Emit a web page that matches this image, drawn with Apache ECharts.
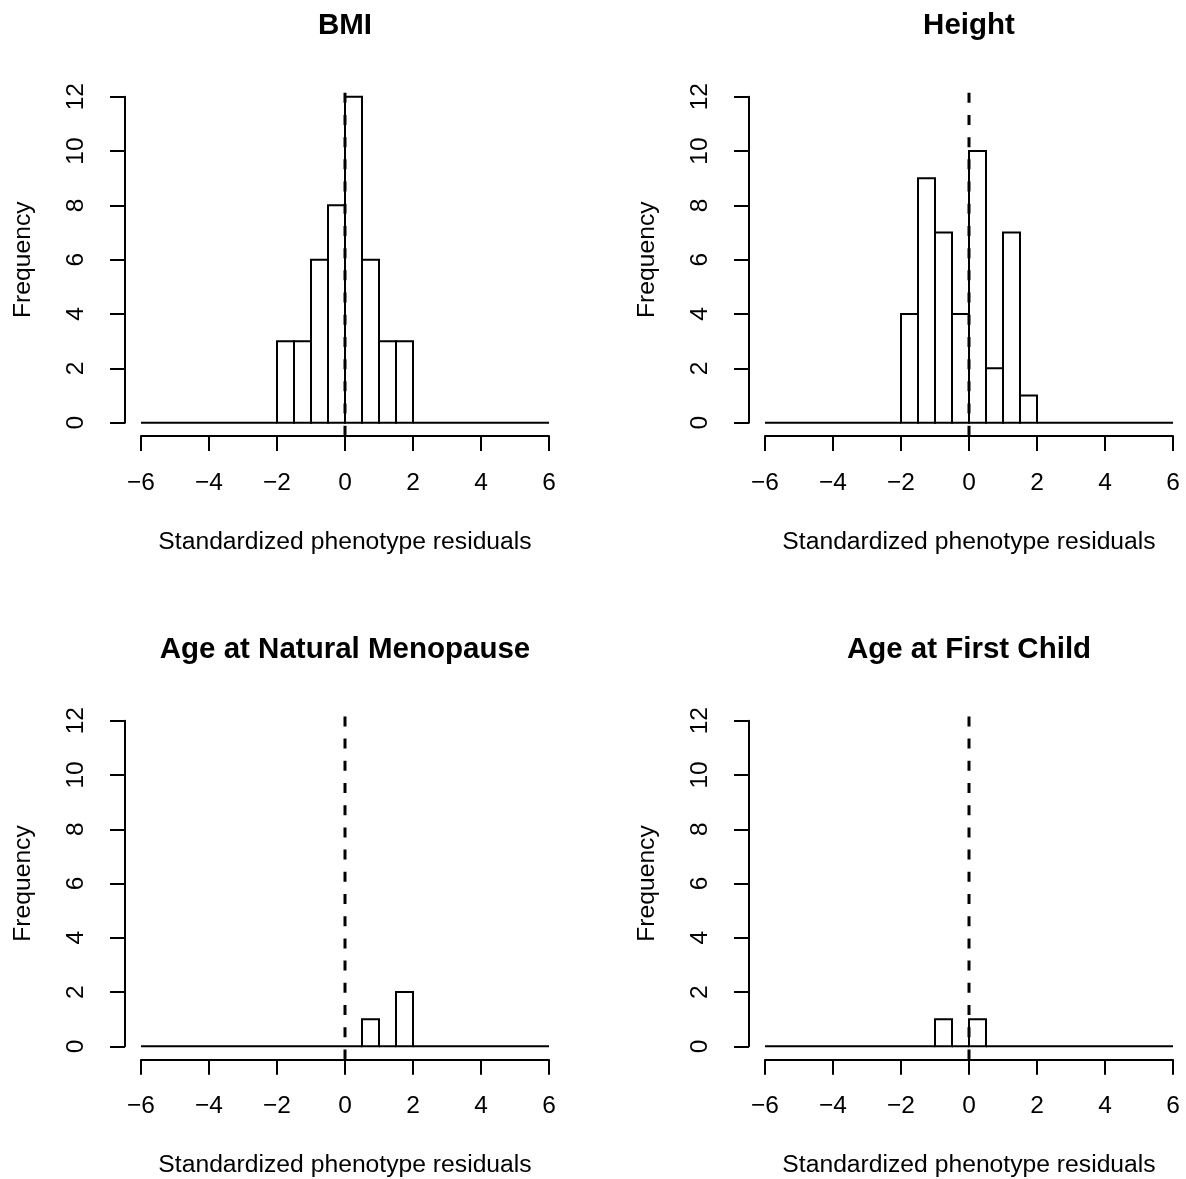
<!DOCTYPE html>
<html>
<head>
<meta charset="utf-8">
<script src="https://cdn.jsdelivr.net/npm/echarts@6/dist/echarts.min.js"></script>
<style>html,body{margin:0;padding:0;background:#fff;}#c{width:1186px;height:1179px;}</style>
</head>
<body>
<div id="c"></div>
<script>
// ---- data ----
const panelTitles = ['BMI', 'Height', 'Age at Natural Menopause', 'Age at First Child'];
const breaks = [-6, -5.5, -5, -4.5, -4, -3.5, -3, -2.5, -2, -1.5, -1, -0.5, 0, 0.5, 1, 1.5, 2, 2.5, 3, 3.5, 4, 4.5, 5, 5.5, 6];
const countsBMI        = [0, 0, 0, 0, 0, 0, 0, 0, 3, 3, 6, 8, 12, 6, 3, 3, 0, 0, 0, 0, 0, 0, 0, 0];
const countsHeight     = [0, 0, 0, 0, 0, 0, 0, 0, 4, 9, 7, 4, 10, 2, 7, 1, 0, 0, 0, 0, 0, 0, 0, 0];
const countsMenopause  = [0, 0, 0, 0, 0, 0, 0, 0, 0, 0, 0, 0, 0, 1, 0, 2, 0, 0, 0, 0, 0, 0, 0, 0];
const countsFirstChild = [0, 0, 0, 0, 0, 0, 0, 0, 0, 0, 1, 0, 1, 0, 0, 0, 0, 0, 0, 0, 0, 0, 0, 0];
const xTicks = [-6, -4, -2, 0, 2, 4, 6];
const yTicks = [0, 2, 4, 6, 8, 10, 12];
const refLineX = 0;
const xLabel = 'Standardized phenotype residuals';
const yLabel = 'Frequency';

const allCounts = [countsBMI, countsHeight, countsMenopause, countsFirstChild];
const FONT = "'Liberation Sans', Arial, Helvetica, sans-serif";

const chart = echarts.init(document.getElementById('c'), null, {renderer: 'canvas'});

const grids = [], xAxes = [], yAxes = [], series = [], titles = [];
const STEP = 624;
const XMIN = xTicks[0], XMAX = xTicks[xTicks.length - 1];
const YMIN = yTicks[0], YMAX = yTicks[yTicks.length - 1];
const yPad = (YMAX - YMIN) * 0.04;

for (let i = 0; i < 4; i++) {
  const ox = (i % 2) * STEP, oy = Math.floor(i / 2) * STEP;
  grids.push({left: 141 + ox, top: 96.7 + oy, width: 408, height: 326, containLabel: false});
  titles.push({
    text: panelTitles[i], left: 345 + ox, top: 11 + oy, textAlign: 'center', padding: 0,
    textStyle: {fontFamily: FONT, fontSize: 29.5, fontWeight: 'bold', color: '#000', lineHeight: 29.5}
  });
  xAxes.push({
    gridIndex: i, type: 'value', min: XMIN, max: XMAX, interval: 2, position: 'bottom', offset: 13.3,
    name: xLabel, nameLocation: 'middle', nameGap: 93.5,
    nameTextStyle: {fontFamily: FONT, fontSize: 24.7, color: '#000', lineHeight: 24.7},
    axisLine: {show: true, onZero: false, lineStyle: {color: '#000', width: 2}},
    axisTick: {show: true, inside: false, length: 15, lineStyle: {color: '#000', width: 2}},
    axisLabel: {show: true, margin: 34.5, fontFamily: FONT, fontSize: 24.5, color: '#000', lineHeight: 24.5,
      formatter: v => (v < 0 ? '\u2212' + Math.abs(v) : String(v))},
    splitLine: {show: false}
  });
  yAxes.push({
    gridIndex: i, type: 'value', min: YMIN, max: YMAX, interval: 2, position: 'left', offset: 16,
    name: yLabel, nameLocation: 'middle', nameGap: 89, nameRotate: 90,
    nameTextStyle: {fontFamily: FONT, fontSize: 24.7, color: '#000', lineHeight: 24.7},
    axisLine: {show: true, onZero: false, lineStyle: {color: '#000', width: 2}},
    axisTick: {show: true, inside: false, length: 15, lineStyle: {color: '#000', width: 2}},
    axisLabel: {show: true, rotate: 90, margin: 37, fontFamily: FONT, fontSize: 24.5, color: '#000', lineHeight: 24.5},
    splitLine: {show: false}
  });
  const data = allCounts[i].map((c, k) => [breaks[k], breaks[k + 1], c]);
  series.push({
    type: 'custom', xAxisIndex: i, yAxisIndex: i, clip: false, silent: true, z: 2,
    encode: {x: [0, 1], y: 2},
    data: data,
    renderItem: function (params, api) {
      const p0 = api.coord([api.value(0), 0]);
      const p1 = api.coord([api.value(1), api.value(2)]);
      return {
        type: 'rect',
        shape: {x: p0[0], y: p1[1], width: p1[0] - p0[0], height: p0[1] - p1[1]},
        style: {fill: 'rgba(255,255,255,0)', stroke: '#000', lineWidth: 2}
      };
    }
  });
  series.push({
    type: 'line', xAxisIndex: i, yAxisIndex: i, clip: false, silent: true, z: 3,
    symbol: 'none', animation: false,
    data: [[refLineX, YMIN - yPad], [refLineX, YMAX + yPad]],
    lineStyle: {color: '#000', width: 3, type: [10, 12.2]}
  });
}

chart.setOption({
  animation: false,
  backgroundColor: '#fff',
  title: titles,
  grid: grids,
  xAxis: xAxes,
  yAxis: yAxes,
  series: series
});
</script>
</body>
</html>
